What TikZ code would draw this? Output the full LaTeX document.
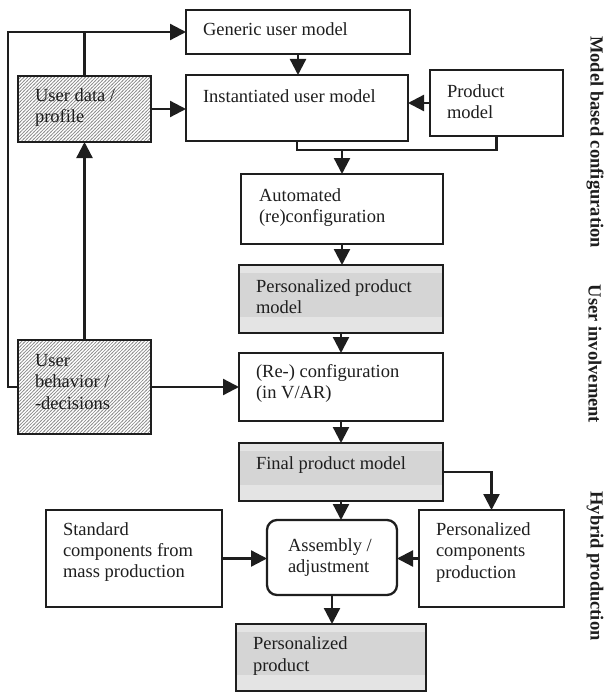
\documentclass[tikz,border=0pt]{standalone}
\usepackage{fontspec}
\setmainfont{Liberation Serif}
\usetikzlibrary{arrows.meta,patterns.meta,calc}
\definecolor{lgray}{HTML}{E4E4E4}
\definecolor{dgray}{HTML}{D5D5D5}
\definecolor{hatchc}{HTML}{8C8C8C}
\definecolor{ink}{HTML}{1E1E1E}
\tikzdeclarepattern{
  name=myhatch,
  type=uncolored,
  bounding box={(-1pt,-1pt) and (4pt,4pt)},
  tile size={(3.4pt,3.4pt)},
  code={\draw[line width=0.7pt] (-0.5pt,-0.5pt) -- (3.9pt,3.9pt);}
}
\begin{document}
\begin{tikzpicture}[x=1pt,y=-1pt,
  box/.style={draw=ink, line width=2.3pt, inner sep=0pt, outer sep=0pt, fill=white},
  gbox/.style={box, fill=lgray, path picture={\fill[dgray] ($(path picture bounding box.north west)+(0,8)$) rectangle ($(path picture bounding box.south east)+(0,-16)$);}},
  hbox/.style={box, fill=none, pattern={myhatch}, pattern color=hatchc},
  rbox/.style={box, rounded corners=10pt},
  txt/.style={inner sep=0pt, outer sep=0pt, anchor=base west, align=left, text=ink, font=\fontsize{18.5}{21.3}\selectfont},
  side/.style={inner sep=0pt, rotate=-90, text=ink, font=\fontsize{18.5}{21}\selectfont\bfseries},
  ln/.style={draw=ink, line width=2.3pt},
  arr/.style={ln, -{Triangle[length=16pt,width=16pt]}}
]
\useasboundingbox (0,0) rectangle (608,693);

% boxes
\node[box,  minimum width=224pt, minimum height=44pt] (gen)   at (298,32) {};
\node[box,  minimum width=222pt, minimum height=66pt] (inst)  at (297,108) {};
\node[box,  minimum width=133pt, minimum height=66pt] (prod)  at (496.5,103) {};
\node[hbox, minimum width=133pt, minimum height=66pt] (udata) at (84.5,109) {};
\node[box,  minimum width=202pt, minimum height=70pt] (auto)  at (342,209) {};
\node[gbox, minimum width=204pt, minimum height=68pt] (ppm)   at (341,299) {};
\node[box,  minimum width=204pt, minimum height=68pt] (recfg) at (341,387) {};
\node[hbox, minimum width=133pt, minimum height=94pt] (ubeh)  at (84.5,387) {};
\node[gbox, minimum width=204pt, minimum height=58pt] (final) at (341,472) {};
\node[box,  minimum width=176pt, minimum height=97pt] (std)   at (134,558.5) {};
\node[rbox, minimum width=130pt, minimum height=75pt] (asm)   at (332,557.5) {};
\node[box,  minimum width=145pt, minimum height=97pt] (pcp)   at (491.5,558.5) {};
\node[gbox, minimum width=190pt, minimum height=67pt] (pprod) at (331,657.5) {};

% texts (anchor = baseline of the last line)
\node[txt] (gen-t)   at (203,36)    {Generic user model};
\node[txt] (inst-t)  at (203,102)   {Instantiated user model};
\node[txt] (prod-t)  at (447,118.3) {Product\\model};
\node[txt] (udata-t) at (35,122.3)  {User data /\\profile};
\node[txt] (auto-t)  at (259,222.5) {Automated\\(re)configuration};
\node[txt] (ppm-t)   at (256,313.3) {Personalized product\\model};
\node[txt] (recfg-t) at (256,398.3) {(Re-) configuration\\(in V/AR)};
\node[txt] (ubeh-t)  at (35,409)    {User\\behavior /\\-decisions};
\node[txt] (final-t) at (256,469)   {Final product model};
\node[txt] (std-t)   at (63,577.6)  {Standard\\components from\\mass production};
\node[txt] (asm-t)   at (288,572.3) {Assembly /\\adjustment};
\node[txt] (pcp-t)   at (436,578)   {Personalized\\components\\production};
\node[txt] (pprod-t) at (253,671)   {Personalized\\product};

% side labels
\node[side] (lab1) at (595,142) {Model based configuration};
\node[side] (lab2) at (595,354) {User involvement};
\node[side] (lab3) at (595,566) {Hybrid production};

% connectors
\coordinate (lx) at (8,0);
\coordinate (jn) at (342,150);
\draw[arr] (ubeh.west) -- (ubeh.west -| lx) |- (gen.west);
\draw[ln] (udata.north) -- (udata.north |- gen.west);
\draw[arr] (ubeh.north) -- (udata.south);
\draw[arr] (udata.east) -- (udata.east -| inst.west);
\draw[arr] (ubeh.east) -- (ubeh.east -| recfg.west);
\draw[arr] (gen.south) -- (gen.south |- inst.north);
\draw[arr] (prod.west) -- (prod.west -| inst.east);
\draw[ln] (inst.south) |- (jn) -| (prod.south);
\draw[arr] (jn) -- (auto.north);
\draw[arr] (auto.south) -- (auto.south |- ppm.north);
\draw[arr] (ppm.south) -- (ppm.south |- recfg.north);
\draw[arr] (recfg.south) -- (recfg.south |- final.north);
\draw[arr] (final.south) -- (final.south |- asm.north);
\draw[arr] (final.east) -| (pcp.north);
\draw[arr] (pcp.west) -- (pcp.west -| asm.east);
\draw[arr] (std.east) -- (std.east -| asm.west);
\draw[arr] (asm.south) -- (asm.south |- pprod.north);
\end{tikzpicture}
\end{document}
